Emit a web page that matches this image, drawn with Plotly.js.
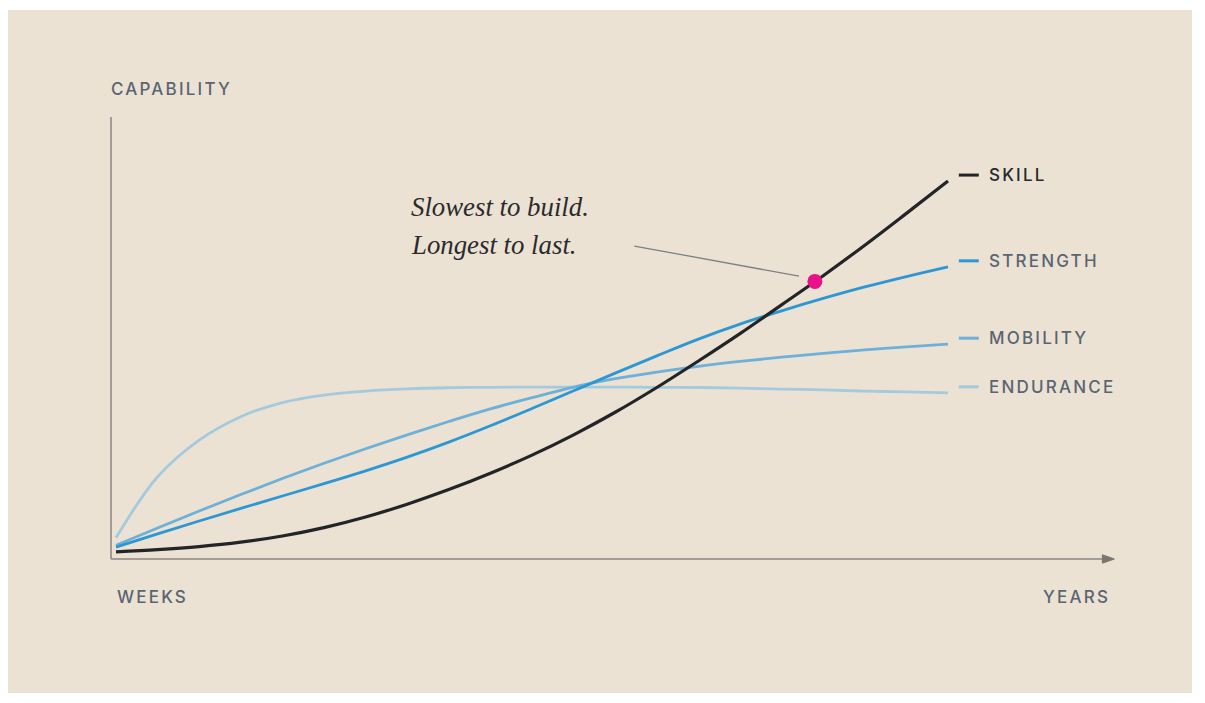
<!DOCTYPE html>
<html>
<head>
<meta charset="utf-8">
<script src="https://cdn.plot.ly/plotly-3.0.1.min.js"></script>
<style>
  html, body { margin: 0; padding: 0; background: #ffffff; }
  #chart { width: 1205px; height: 703px; }
</style>
</head>
<body>
<div id="chart"></div>
<script>
// time runs from weeks (0) to years (10), capability on a 0-100 scale
const xs = [0, 0.5, 1, 1.5, 2, 2.5, 3, 3.5, 4, 4.5, 5, 5.5, 6, 6.5, 7, 7.5, 8, 8.5, 9, 9.5, 10]
const skill = [1.6, 2.1, 2.8, 3.8, 5.2, 7.1, 9.5, 12.4, 15.7, 19.4, 23.5, 28.1, 33.2, 38.8, 44.8, 51.0, 57.5, 64.1, 71.0, 78.2, 85.5]
const strength = [2.7, 5.7, 8.6, 11.45, 14.25, 17.05, 19.95, 23.05, 26.45, 30.15, 34.05, 38.05, 42.05, 45.95, 49.75, 53.15, 56.15, 58.95, 61.55, 63.9, 66.1]
const mobility = [3.1, 7.0, 10.85, 14.6, 18.2, 21.65, 24.95, 28.1, 31.1, 33.95, 36.5, 38.9, 40.8, 42.3, 43.6, 44.7, 45.65, 46.5, 47.3, 48.0, 48.6]
const endurance = [4.8, 18.6, 26.9, 32.2, 35.4, 37.1, 38.0, 38.5, 38.75, 38.85, 38.9, 38.9, 38.9, 38.85, 38.8, 38.65, 38.45, 38.25, 38.0, 37.8, 37.6]

const seriesNames = ["SKILL", "STRENGTH", "MOBILITY", "ENDURANCE"]
const highlightX = [8.4]
const highlightY = [62.8]

const colors = {
  SKILL: "#222428",
  STRENGTH: "#2d97d4",
  MOBILITY: "#6eb0d8",
  ENDURANCE: "#a5cadd",
}
const widths = { SKILL: 3.2, STRENGTH: 2.8, MOBILITY: 2.8, ENDURANCE: 2.8 }
const values = { SKILL: skill, STRENGTH: strength, MOBILITY: mobility, ENDURANCE: endurance }

const axisColor = "#8b8682"
const labelColor = "#5a6571"
const labelFont = "Inter, 'Noto Sans', sans-serif"

// drawn back to front, skill on top
const order = ["ENDURANCE", "MOBILITY", "STRENGTH", "SKILL"]
const data = order.map((name) => ({
  x: xs,
  y: values[name],
  type: "scatter",
  mode: "lines",
  line: { color: colors[name], width: widths[name], shape: "spline", smoothing: 1 },
  hoverinfo: "skip",
  name: name,
}))

data.push({
  x: highlightX,
  y: highlightY,
  type: "scatter",
  mode: "markers",
  marker: { color: "#e8118a", size: 15 },
  hoverinfo: "skip",
})

const xEnd = xs[xs.length - 1]
const shapes = [
  // beige panel
  {
    type: "rect", xref: "paper", yref: "paper",
    x0: 8 / 1205, x1: 1192 / 1205, y0: 1 - 693 / 703, y1: 1 - 10 / 703,
    fillcolor: "#ebe2d4", line: { width: 0 }, layer: "below",
  },
  // y axis
  { type: "line", x0: -0.06, x1: -0.06, y0: 0, y1: 100, line: { color: axisColor, width: 1.5 } },
  // x axis with arrow
  { type: "line", x0: -0.06, x1: 11.88, y0: 0, y1: 0, line: { color: axisColor, width: 1.5 } },
  {
    type: "path", path: "M 11.855,0.95 L 12.0,0 L 11.855,-0.95 Z",
    fillcolor: "#7a7571", line: { color: "#7a7571", width: 1 },
  },
  // leader line to the highlighted point
  { type: "line", x0: 6.23, y0: 70.8, x1: 8.21, y1: 64.0, line: { color: "#7d8084", width: 1.3 } },
]

const annotations = []
const tracked = []

seriesNames.forEach((name) => {
  const v = values[name]
  const yl = v[v.length - 1] + 1.36
  shapes.push({
    type: "line", x0: xEnd + 0.13, x1: xEnd + 0.37, y0: yl, y1: yl,
    line: { color: colors[name], width: 3 },
  })
  tracked.push(annotations.length)
  annotations.push({
    x: xEnd + 0.465, y: yl, text: name, showarrow: false,
    xanchor: "left", yanchor: "middle", align: "left",
    font: { family: labelFont, size: 17, weight: 500, color: name == "SKILL" ? "#26292d" : labelColor },
  })
})

const axisLabels = [
  { text: "CAPABILITY", x: (109 - 116) / 83.2, y: (559 - 89) / 4.42 },
  { text: "WEEKS", x: (115 - 116) / 83.2, y: (559 - 597) / 4.42 },
  { text: "YEARS", x: (1041 - 116) / 83.2, y: (559 - 597) / 4.42 },
]
axisLabels.forEach((a) => {
  tracked.push(annotations.length)
  annotations.push({
    x: a.x, y: a.y, text: a.text, showarrow: false,
    xanchor: "left", yanchor: "middle", align: "left",
    font: { family: labelFont, size: 17, weight: 500, color: labelColor },
  })
})

const noteLines = ["Slowest to build.", "Longest to last."]
const noteY = [(559 - 207) / 4.42, (559 - 245) / 4.42]
noteLines.forEach((line, i) => {
  annotations.push({
    x: (409 - 116) / 83.2, y: noteY[i],
    text: line,
    showarrow: false, xanchor: "left", yanchor: "middle", align: "left",
    font: { family: "'Liberation Serif', serif", size: 26.8, color: "#2b2b2d", style: "italic" },
  })
})

const layout = {
  width: 1205,
  height: 703,
  margin: { l: 0, r: 0, t: 0, b: 0 },
  paper_bgcolor: "#ffffff",
  plot_bgcolor: "rgba(0,0,0,0)",
  showlegend: false,
  xaxis: {
    range: [-116 / 83.2, (1205 - 116) / 83.2],
    visible: false, fixedrange: true,
  },
  yaxis: {
    range: [(559 - 703) / 4.42, 559 / 4.42],
    visible: false, fixedrange: true,
  },
  shapes: shapes,
  annotations: annotations,
}

Plotly.newPlot("chart", data, layout, { displayModeBar: false, staticPlot: true }).then(() => {
  // tracked caps like the original labels
  tracked.forEach((i) => {
    const t = document.querySelector(`#chart g.annotation[data-index="${i}"] text`)
    if (t) t.style.letterSpacing = "2.2px"
  })
})
</script>
</body>
</html>
